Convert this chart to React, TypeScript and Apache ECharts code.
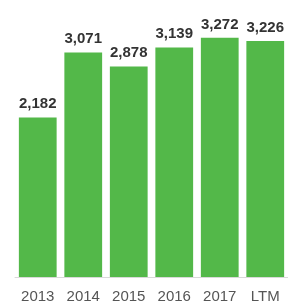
import React, { useEffect, useRef } from "react";
import * as echarts from "echarts";

const categories = ["2013", "2014", "2015", "2016", "2017", "LTM"];
const values = [2182, 3071, 2878, 3139, 3272, 3226];

export default function App() {
  const ref = useRef<HTMLDivElement>(null);
  useEffect(() => {
    if (!ref.current) return;
    const chart = echarts.init(ref.current, null, { renderer: "svg" });
    chart.setOption({
      animation: false,
      grid: { left: 15, right: 0, top: 21, bottom: 31 },
      xAxis: {
        type: "category",
        data: categories,
        axisLine: { show: true, lineStyle: { color: "#d9d9d9", width: 1 } },
        axisTick: { show: false },
        axisLabel: {
          color: "#555",
          fontSize: 15,
          fontFamily: "Liberation Sans, Arial, sans-serif",
          margin: 11,
        },
      },
      yAxis: {
        type: "value",
        min: 0,
        max: 3500,
        show: false,
        splitLine: { show: false },
      },
      series: [
        {
          type: "bar",
          data: values,
          barCategoryGap: "17%",
          itemStyle: { color: "#53b849" },
          label: {
            show: true,
            position: "top",
            distance: 7,
            color: "#333",
            fontSize: 15,
            fontWeight: "bold",
            fontFamily: "Liberation Sans, Arial, sans-serif",
            formatter: (p: any) => Number(p.value).toLocaleString("en-US"),
          },
        },
      ],
    });
    return () => chart.dispose();
  }, []);
  return (
    <div
      ref={ref}
      style={{ position: "fixed", left: 0, top: 0, width: 288, height: 308 }}
    />
  );
}
